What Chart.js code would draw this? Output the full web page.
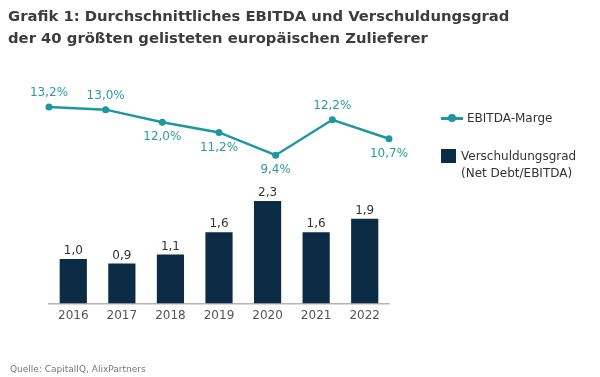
<!DOCTYPE html>
<html>
<head>
<meta charset="utf-8">
<script src="https://cdn.jsdelivr.net/npm/chart.js@4/dist/chart.umd.min.js"></script>
<style>
  body { margin: 0; background: #fff; font-family: "DejaVu Sans", Verdana, sans-serif; }
  #wrap { position: relative; width: 600px; height: 377px; overflow: hidden; }
  #chartCombo { position: absolute; left: 0; top: 0; }
  .title { position: absolute; left: 8px; top: 5px; font-size: 14.8px; font-weight: bold; color: #3c3c3c; line-height: 22px; }
  .legend { position: absolute; left: 441px; font-size: 12px; color: #333; line-height: 17px; }
  .src { position: absolute; left: 10px; top: 364px; font-size: 9px; color: #777; }
</style>
</head>
<body>
<div id="wrap">
  <canvas id="chartCombo" width="600" height="377"></canvas>
  <div class="title">Grafik 1: Durchschnittliches EBITDA und Verschuldungsgrad<br>der 40 größten gelisteten europäischen Zulieferer</div>
  <div class="legend" style="top:110px">
    <span style="display:inline-block;position:relative;width:22px;height:3px;background:#1f97a1;vertical-align:middle;margin-right:4px">
      <span style="position:absolute;left:7px;top:-3px;width:8px;height:8px;border-radius:50%;background:#1f97a1"></span>
    </span>EBITDA-Marge
  </div>
  <div class="legend" style="top:148px">
    <span style="display:inline-block;width:15px;height:14px;background:#0c2b44;vertical-align:top;margin-right:5px;margin-top:1px"></span><span style="display:inline-block">Verschuldungsgrad<br>(Net Debt/EBITDA)</span>
  </div>
  <div class="src">Quelle: CapitalIQ, AlixPartners</div>
</div>
<script>
  // Daten
  const years = ['2016', '2017', '2018', '2019', '2020', '2021', '2022'];
  const ebitdaMarge = [13.2, 13.0, 12.0, 11.2, 9.4, 12.2, 10.7];
  const verschuldung = [1.0, 0.9, 1.1, 1.6, 2.3, 1.6, 1.9];
  // Label über (true) oder unter (false) dem Punkt
  const labelAbove = [true, true, false, false, false, true, false];

  const fmt = (v, d) => v.toFixed(d).replace('.', ',');

  // Beschriftungen der Punkte und Balken
  const valueLabels = {
    id: 'valueLabels',
    afterDatasetsDraw(chart) {
      const ctx = chart.ctx;
      ctx.save();
      ctx.font = '12px "DejaVu Sans", Verdana, sans-serif';
      ctx.textAlign = 'center';
      ctx.textBaseline = 'middle';
      chart.getDatasetMeta(0).data.forEach((pt, i) => {
        ctx.fillStyle = '#2b9aa4';
        const dy = labelAbove[i] ? -14 : 15;
        ctx.fillText(fmt(ebitdaMarge[i], 1) + '%', pt.x, pt.y + dy);
      });
      chart.getDatasetMeta(1).data.forEach((bar, i) => {
        ctx.fillStyle = '#333';
        ctx.fillText(fmt(verschuldung[i], 1), bar.x, bar.y - 8);
      });
      ctx.restore();
    }
  };

  const ctx = document.getElementById('chartCombo').getContext('2d');
  const chartCombo = new Chart(ctx, {
    data: {
      labels: years,
      datasets: [
        {
          type: 'line',
          label: 'EBITDA-Marge',
          data: ebitdaMarge,
          xAxisID: 'x2',
          yAxisID: 'y2',
          borderColor: '#1f97a1',
          backgroundColor: '#1f97a1',
          borderWidth: 2.5,
          pointRadius: 3.5,
          pointBorderWidth: 0,
          tension: 0
        },
        {
          type: 'bar',
          label: 'Verschuldungsgrad (Net Debt/EBITDA)',
          data: verschuldung,
          xAxisID: 'x',
          yAxisID: 'y',
          backgroundColor: '#0c2b44',
          grouped: false,
          barPercentage: 0.56,
          categoryPercentage: 1
        }
      ]
    },
    options: {
      responsive: false,
      animation: false,
      layout: { padding: { left: 49, right: 211, top: 60, bottom: 49 } },
      plugins: { legend: { display: false }, tooltip: { enabled: false } },
      scales: {
        x: {
          offset: true,
          grid: { display: false, drawTicks: false },
          border: { color: '#b5b5b5', width: 1.5 },
          ticks: { color: '#555', font: { size: 12, family: '"DejaVu Sans", Verdana, sans-serif' }, padding: 5 }
        },
        x2: { display: false, offset: false },
        y: { display: false, min: 0, max: 5.46 },
        y2: { display: false, min: -2.32, max: 16.92 }
      }
    },
    plugins: [valueLabels]
  });
</script>
</body>
</html>
